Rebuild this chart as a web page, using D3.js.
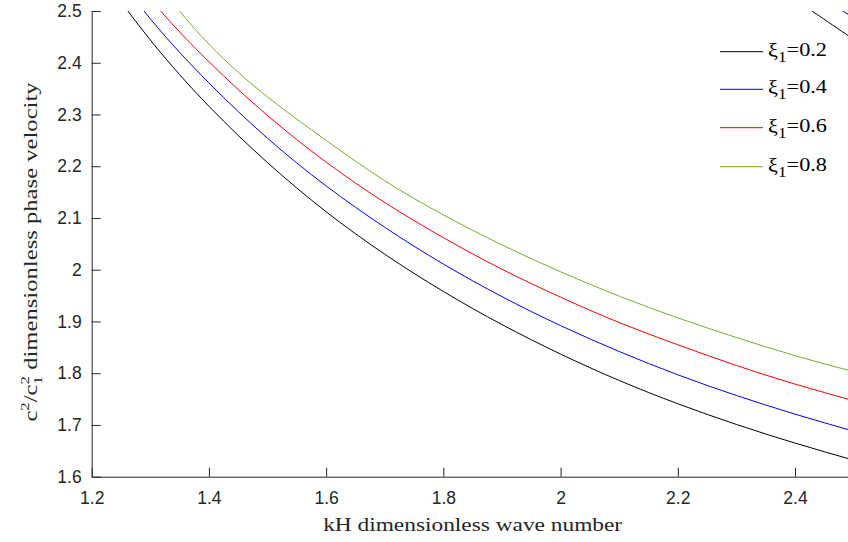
<!DOCTYPE html>
<html><head><meta charset="utf-8">
<script src="https://cdn.jsdelivr.net/npm/d3@7"></script>
<style>body{margin:0;background:#fff}svg{display:block}</style>
</head><body>
<svg id="c" width="848" height="542"></svg>
<script>
// ---- data ----
const k    = [1.2,   1.3,   1.4,   1.5,   1.6,   1.7,   1.8,   1.9,   2.0,   2.1,   2.2,   2.3,   2.4,   2.5];
const xi02 = [2.595, 2.444, 2.316, 2.207, 2.112, 2.030, 1.958, 1.894, 1.837, 1.786, 1.741, 1.701, 1.665, 1.632];
const xi04 = [2.633, 2.485, 2.361, 2.254, 2.162, 2.082, 2.011, 1.948, 1.892, 1.842, 1.797, 1.757, 1.721, 1.688];
const xi06 = [2.667, 2.523, 2.402, 2.298, 2.208, 2.130, 2.062, 2.001, 1.947, 1.898, 1.855, 1.815, 1.779, 1.747];
const xi08 = [2.720, 2.570, 2.436, 2.334, 2.250, 2.172, 2.106, 2.048, 1.996, 1.949, 1.907, 1.869, 1.834, 1.803];
// second-mode fragments visible in the upper right corner
const mode2K_black = [2.429, 2.49, 2.5];
const mode2V_black = [2.5, 2.453, 2.446];
const mode2K_blue = [2.481, 2.5];
const mode2V_blue = [2.5, 2.488];
const legendLabels = ["0.2", "0.4", "0.6", "0.8"];
const colors = ["#000000", "#0000ff", "#ff0000", "#77ac30"];
const xTicks = [1.2, 1.4, 1.6, 1.8, 2.0, 2.2, 2.4];
const yTicks = [1.6, 1.7, 1.8, 1.9, 2.0, 2.1, 2.2, 2.3, 2.4, 2.5];

// ---- layout ----
const svg = d3.select("#c");
const L = 91.7, R = 853.6, T = 11, B = 476.7;
const x = d3.scaleLinear().domain([1.2, 2.5]).range([L, R]);
const y = d3.scaleLinear().domain([1.6, 2.5]).range([B, T]);
const axisColor = "#262626";
const serif = "'Liberation Serif', 'Times New Roman', serif";

svg.append("defs").append("clipPath").attr("id", "clip")
  .append("rect").attr("x", L).attr("y", T).attr("width", R - L).attr("height", B - T);

const series = [xi02, xi04, xi06, xi08];
const line = d3.line().x(d => x(d[0])).y(d => y(d[1])).curve(d3.curveNatural);
const g = svg.append("g").attr("clip-path", "url(#clip)");
series.forEach((vals, i) => {
  g.append("path").attr("d", line(k.map((kk, j) => [kk, vals[j]]))).attr("fill", "none")
    .attr("stroke", colors[i]).attr("stroke-width", 1);
});
g.append("path").attr("d", line(mode2K_black.map((kk, j) => [kk, mode2V_black[j]])))
  .attr("fill", "none").attr("stroke", colors[0]).attr("stroke-width", 1);
g.append("path").attr("d", line(mode2K_blue.map((kk, j) => [kk, mode2V_blue[j]])))
  .attr("fill", "none").attr("stroke", colors[1]).attr("stroke-width", 1);

// axes
const xAxis = d3.axisBottom(x).tickValues(xTicks).tickSizeInner(-9).tickSizeOuter(0).tickPadding(15)
  .tickFormat(d3.format("~g"));
const gx = svg.append("g").attr("transform", `translate(0,${B})`).call(xAxis);
const yAxis = d3.axisLeft(y).tickValues(yTicks).tickSizeInner(-9).tickSizeOuter(0).tickPadding(10)
  .tickFormat(d3.format("~g"));
const gy = svg.append("g").attr("transform", `translate(${L},0)`).call(yAxis);
[gx, gy].forEach(a => {
  a.select(".domain").attr("stroke", axisColor).attr("stroke-width", 1);
  a.selectAll(".tick line").attr("stroke", axisColor);
  a.selectAll(".tick text").attr("fill", axisColor)
    .style("font-family", "'Liberation Sans', Arial, sans-serif").style("font-size", "17.5px");
});

function stretch(sel, target) {
  const w = sel.node().getBBox().width;
  return target / w;
}

// x label
const xl = svg.append("text").attr("text-anchor", "middle")
  .style("font-family", serif).style("font-size", "19px")
  .attr("fill", "#262626").text("kH dimensionless wave number");
const sx = stretch(xl, 300);
xl.attr("transform", `translate(${(L + R) / 2},531) scale(${sx},1)`);

// y label
const yl = svg.append("text").attr("text-anchor", "middle")
  .style("font-family", serif).style("font-size", "19px").attr("fill", "#262626");
yl.append("tspan").text("c");
yl.append("tspan").attr("dy", -8).style("font-size", "13px").text("2");
yl.append("tspan").attr("dy", 8).text("/c");
yl.append("tspan").attr("dy", 5).style("font-size", "13px").text("1");
yl.append("tspan").attr("dx", -6.5).attr("dy", -13).style("font-size", "13px").text("2");
yl.append("tspan").attr("dy", 8).text(" dimensionless phase velocity");
const sy = stretch(yl, 340);
yl.attr("transform", `translate(37,252) rotate(-90) scale(${sy},1)`);

// legend
const legY = [51.7, 89.3, 127.7, 166.7];
legendLabels.forEach((lab, i) => {
  svg.append("line").attr("x1", 720).attr("x2", 763).attr("y1", legY[i]).attr("y2", legY[i])
    .attr("stroke", colors[i]).attr("stroke-width", 1);
  const t = svg.append("text").attr("x", 0).attr("y", 0)
    .style("font-family", serif).style("font-size", "18px").attr("fill", "#000");
  t.append("tspan").text("ξ");
  t.append("tspan").attr("dy", 6).style("font-size", "14px").text("1");
  t.append("tspan").attr("dy", -6).text("=" + lab);
  const s = stretch(t, 59);
  t.attr("transform", `translate(768,${legY[i] + 4}) scale(${s},1)`);
});
</script>
</body></html>
